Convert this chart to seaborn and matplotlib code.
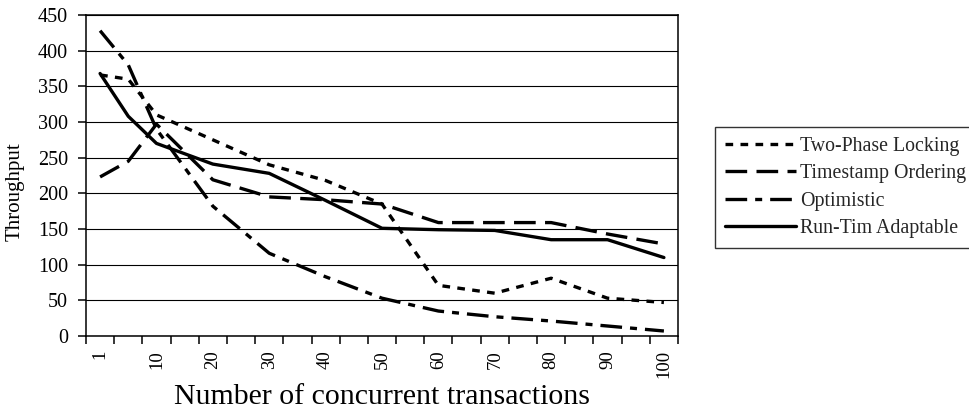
import matplotlib
matplotlib.use("Agg")
import matplotlib.pyplot as plt
import pandas as pd
import seaborn as sns
from matplotlib.ticker import FixedLocator

# ---- data -------------------------------------------------------------
categories = [1, 5, 10, 15, 20, 25, 30, 35, 40, 45, 50,
              55, 60, 65, 70, 75, 80, 85, 90, 95, 100]
label_values = [1, 10, 20, 30, 40, 50, 60, 70, 80, 90, 100]
x_values = [1, 5, 10, 20, 30, 40, 50, 60, 70, 80, 90, 100]

series_names = ["Two-Phase Locking", "Timestamp Ordering",
                "Optimistic", "Run-Tim Adaptable"]
two_phase = [366, 360, 310, 275, 240, 218, 185, 71, 60, 81, 53, 47]
timestamp = [223, 245, 297, 219, 195, 191, 185, 159, 159, 159, 143, 129]
optimistic = [428, 380, 290, 182, 116, 83, 53, 35, 27, 21, 14, 7]
adaptive = [368, 308, 270, 241, 228, 190, 151, 149, 148, 135, 135, 110]

y_ticks = [0, 50, 100, 150, 200, 250, 300, 350, 400, 450]
x_title = "Number of concurrent transactions"
y_title = "Throughput"

# ---- long-form table --------------------------------------------------
rows = []
for name, vals in zip(series_names, [two_phase, timestamp, optimistic, adaptive]):
    for xv, yv in zip(x_values, vals):
        rows.append({"series": name, "pos": categories.index(xv), "Throughput": yv})
df = pd.DataFrame(rows)

# ---- style ------------------------------------------------------------
sns.set_theme(style="white")
plt.rcParams["font.family"] = ["Liberation Serif", "DejaVu Serif"]
plt.rcParams["axes.edgecolor"] = "black"

fig = plt.figure(figsize=(9.7, 4.12), dpi=100)
ax = fig.add_axes([86 / 970, 1 - 336 / 412, (678 - 86) / 970, (336 - 15) / 412])

dash_map = {
    "Two-Phase Locking": (2.3, 2.2),
    "Timestamp Ordering": (6.5, 2.8),
    "Optimistic": (6.5, 2.4, 2.1, 2.4),
    "Run-Tim Adaptable": "",
}
sns.lineplot(data=df, x="pos", y="Throughput", hue="series", style="series",
             hue_order=series_names, style_order=series_names,
             palette=["black"] * 4, dashes=dash_map, linewidth=2.4,
             errorbar=None, legend=False, ax=ax)

ax.set_xlim(-0.5, len(categories) - 0.5)
ax.set_ylim(0, 450)
ax.set_yticks(y_ticks)
ax.set_yticklabels([str(v) for v in y_ticks], fontsize=14.5)

major_pos = [categories.index(v) for v in label_values]
ax.set_xticks(major_pos)
ax.set_xticklabels([str(v) for v in label_values], rotation=90, fontsize=13.5)
ax.xaxis.set_minor_locator(FixedLocator([i - 0.5 for i in range(len(categories) + 1)]))

ax.tick_params(axis="x", which="major", length=0, pad=10, colors="black")
ax.tick_params(axis="x", which="minor", bottom=True, length=6, width=1.1,
               direction="out", color="black")
ax.tick_params(axis="y", which="major", left=True, length=6, width=1.1,
               direction="out", pad=7, colors="black")

ax.yaxis.grid(True, color="black", linewidth=0.8)
ax.xaxis.grid(False)
ax.set_axisbelow(True)
for s in ax.spines.values():
    s.set_visible(True)
    s.set_color("black")
    s.set_linewidth(1.1)

ax.set_xlabel(x_title, fontsize=21.5, labelpad=4, color="black")
ax.set_ylabel(y_title, fontsize=15, color="black")
ax.yaxis.set_label_coords(-0.103, 0.45)

handles = ax.get_lines()[:4]
leg = fig.legend(handles, series_names, loc="upper left",
                 bbox_to_anchor=(715 / 970, 1 - 127 / 412),
                 borderaxespad=0, fontsize=14.3, frameon=True, fancybox=False,
                 edgecolor="black", handlelength=3.6, handletextpad=0.2,
                 borderpad=0.5, labelspacing=0.42)
leg.get_frame().set_linewidth(1.0)

fig.savefig("out.png", dpi=100)
